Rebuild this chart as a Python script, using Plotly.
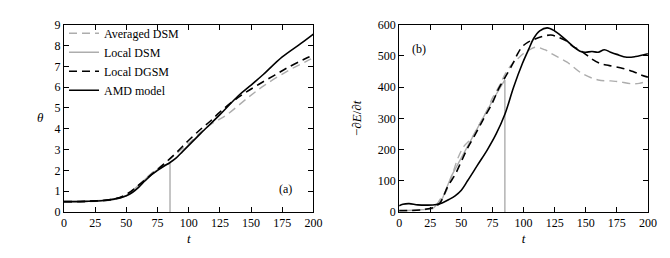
import plotly.graph_objects as go

# ---------------- Panel (a): theta vs t ----------------
t_avg_a = [0, 20, 40, 50, 60, 70, 80, 90, 100, 110, 120, 130, 148, 161, 180, 195, 200]
theta_avg = [0.48, 0.5, 0.6, 0.8, 1.3, 1.85, 2.3, 2.8, 3.3, 3.85, 4.3, 4.65, 5.52, 6.1, 6.8, 7.26, 7.42]

t_ldsm_a = [0, 20, 40, 50, 60, 70, 80, 85, 85]
theta_ldsm = [0.5, 0.52, 0.6, 0.78, 1.3, 1.85, 2.2, 2.35, 0.0]

t_dgsm_a = [0, 20, 40, 50, 60, 70, 80, 90, 100, 110, 117, 125, 135, 145, 156, 169, 180, 195, 200]
theta_dgsm = [0.5, 0.52, 0.62, 0.85, 1.3, 1.8, 2.3, 2.85, 3.45, 4.0, 4.35, 4.8, 5.3, 5.72, 6.13, 6.58, 6.96, 7.41, 7.55]

t_amd_a = [0, 10, 20, 30, 40, 45, 50, 55, 60, 65, 70, 75, 80, 85, 90, 95, 100, 110, 125, 140, 150, 160, 175, 190, 200]
theta_amd = [0.5, 0.5, 0.52, 0.54, 0.62, 0.68, 0.78, 0.95, 1.2, 1.5, 1.78, 2.0, 2.2, 2.38, 2.6, 2.9, 3.2, 3.8, 4.68, 5.6, 6.1, 6.62, 7.45, 8.1, 8.55]

# ---------------- Panel (b): -dE/dt vs t ----------------
t_avg_b = [0, 10, 20, 28, 33, 37, 42, 47, 52, 58, 65, 70, 75, 80, 85, 90, 95, 100, 105, 110, 117, 124, 135, 147, 160, 170, 176, 187, 193, 200]
eps_avg = [3, 5, 8, 12, 41, 60, 110, 170, 210, 235, 285, 320, 365, 400, 440, 470, 490, 508, 520, 528, 520, 504, 480, 444, 423, 420, 418, 411, 412, 420]

t_ldsm_b = [0, 10, 20, 28, 35, 42, 50, 60, 70, 77, 85, 85]
eps_ldsm = [3, 5, 8, 14, 45, 115, 175, 250, 320, 370, 423, 0]

t_dgsm_b = [0, 10, 20, 28, 33, 39, 45, 50, 55, 60, 67, 75, 80, 87, 92, 95, 99, 104, 108, 115, 122, 128, 134, 140, 147, 155, 162, 169, 180, 188, 195, 200]
eps_dgsm = [5, 5, 8, 15, 30, 81, 120, 162, 205, 240, 292, 350, 395, 444, 480, 505, 530, 545, 552, 562, 567, 560, 549, 530, 514, 490, 475, 469, 460, 450, 438, 432]

t_amd_b = [0, 3, 8, 15, 23, 30, 35, 40, 45, 50, 55, 63, 71, 78, 85, 92, 99, 104, 108, 113, 119, 125, 130, 135, 140, 146, 150, 155, 160, 165, 170, 175, 183, 190, 200]
eps_amd = [20, 25, 27, 23, 22, 24, 30, 40, 52, 70, 100, 150, 200, 250, 313, 400, 475, 520, 555, 580, 590, 580, 565, 548, 530, 514, 512, 514, 512, 520, 512, 505, 496, 498, 507]

names = ["Averaged DSM", "Local DSM", "Local DGSM", "AMD model"]
GRAY = "#adadad"
styles = [
    dict(color=GRAY, width=1.4, dash="8px,5px"),
    dict(color=GRAY, width=1.4),
    dict(color="black", width=1.6, dash="8px,5px"),
    dict(color="black", width=1.6),
]

FONT = "Liberation Serif"

# The page has an 8px body margin, so the figure is 8px smaller than the window.
W, H = 662, 250
OFF = 8


def fx(px):
    return (px - OFF) / W


def fy(py):
    return 1 - (py - OFF) / H


fig = go.Figure()

series_a = [(t_avg_a, theta_avg), (t_ldsm_a, theta_ldsm), (t_dgsm_a, theta_dgsm), (t_amd_a, theta_amd)]
series_b = [(t_avg_b, eps_avg), (t_ldsm_b, eps_ldsm), (t_dgsm_b, eps_dgsm), (t_amd_b, eps_amd)]

for (x, y), name, st in zip(series_a, names, styles):
    shape = "linear" if name == "Local DSM" else "spline"
    fig.add_trace(go.Scatter(x=x, y=y, mode="lines", name=name, line=dict(shape=shape, **st),
                             xaxis="x", yaxis="y", showlegend=True))
for (x, y), name, st in zip(series_b, names, styles):
    shape = "linear" if name == "Local DSM" else "spline"
    fig.add_trace(go.Scatter(x=x, y=y, mode="lines", name=name, line=dict(shape=shape, **st),
                             xaxis="x2", yaxis="y2", showlegend=False))

axis_common = dict(showline=True, mirror="ticks", linecolor="black", linewidth=1,
                   ticks="inside", ticklen=5, tickcolor="black", showgrid=False, zeroline=False,
                   tickfont=dict(family=FONT, size=12, color="black"))

xticks = [0, 25, 50, 75, 100, 125, 150, 175, 200]
ydom = [fy(216.7), fy(18.3)]

fig.update_layout(
    width=W, height=H,
    margin=dict(l=0, r=0, t=0, b=0),
    paper_bgcolor="white", plot_bgcolor="white",
    font=dict(family=FONT, size=12, color="black"),
    xaxis=dict(domain=[fx(62), fx(316)], range=[0, 200], tickvals=xticks, anchor="y",
               title=dict(text="<i>t</i>", font=dict(family=FONT, size=13), standoff=4), **axis_common),
    yaxis=dict(domain=ydom, range=[0, 9], tickvals=list(range(10)), anchor="x", **axis_common),
    xaxis2=dict(domain=[fx(403.3), fx(656.7)], range=[0, 200], tickvals=xticks, anchor="y2",
                title=dict(text="<i>t</i>", font=dict(family=FONT, size=13), standoff=4), **axis_common),
    yaxis2=dict(domain=ydom, range=[0, 600], tickvals=[0, 100, 200, 300, 400, 500, 600], anchor="x2",
                title=dict(text="−∂<i>E</i>/∂<i>t</i>", font=dict(family=FONT, size=13), standoff=13),
                **axis_common),
    legend=dict(x=fx(62), y=fy(12), xanchor="left", yanchor="top", bgcolor="rgba(0,0,0,0)",
                font=dict(family=FONT, size=12), tracegroupgap=0, itemwidth=30),
    showlegend=True,
)

fig.add_annotation(text="<i>θ</i>", xref="paper", yref="paper", x=fx(38), y=fy(117),
                   xanchor="center", yanchor="middle",
                   showarrow=False, font=dict(family=FONT, size=13))
fig.add_annotation(text="(a)", xref="x domain", yref="y domain", x=0.89, y=0.125,
                   xanchor="center", yanchor="middle",
                   showarrow=False, font=dict(family=FONT, size=12))
fig.add_annotation(text="(b)", xref="x2 domain", yref="y2 domain", x=0.078, y=0.87,
                   xanchor="center", yanchor="middle",
                   showarrow=False, font=dict(family=FONT, size=12))

fig.write_html("out.html")
